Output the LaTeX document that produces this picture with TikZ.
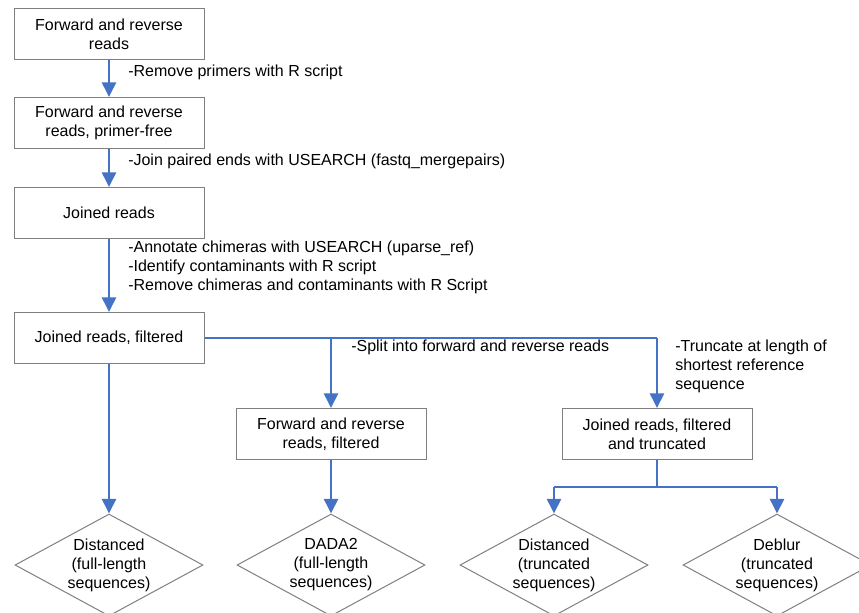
\documentclass[tikz,border=0pt]{standalone}
\usepackage{fontspec}
\setmainfont{Liberation Sans}
\usetikzlibrary{shapes.geometric, positioning, arrows.meta}
\definecolor{flowblue}{HTML}{4472C4}
\definecolor{boxgray}{HTML}{7F7F7F}

\begin{document}
\begin{tikzpicture}[
  x=0.75pt, y=-0.75pt,
  node distance=28pt and 0pt,
  every node/.style={font=\fontsize{12}{14.25}\selectfont, align=center},
  step_box/.style={rectangle, draw=boxgray, line width=0.75pt, minimum width=142.5pt, minimum height=38.25pt},
  decision/.style={diamond, draw=boxgray, line width=0.75pt, aspect=1.84, inner sep=0pt, minimum width=141pt, minimum height=76.5pt},
  note/.style={anchor=west, inner sep=0pt, align=left},
  arrow/.style={-{Triangle[width=10.5pt, length=11pt]}, line width=1.9pt, color=flowblue},
  branch/.style={line width=1pt, color=flowblue}
]
\clip (0,0) rectangle (859,612);

% Steps
\node[step_box] (raw) at (109,34) {Forward and reverse\\reads};
\node[step_box] (primerfree) [below=27.75pt of raw] {Forward and reverse\\reads, primer-free};
\node[step_box] (joined) [below=28.5pt of primerfree] {Joined reads};
\node[step_box] (filtered) [below=54.75pt of joined] {Joined reads, filtered};
\node[step_box] (fwdrev) at (331,434) {Forward and reverse\\reads, filtered};
\node[step_box] (truncated) at (657,434) {Joined reads, filtered\\and truncated};

% Methods
\node[decision] (dist_full) at (109,565) {Distanced\\(full-length\\sequences)};
\node[decision] (dada2) at (331,565) {DADA2\\(full-length\\sequences)};
\node[decision] (dist_trunc) at (554,565) {Distanced\\(truncated\\sequences)};
\node[decision] (deblur) at (777,565) {Deblur\\(truncated\\sequences)};

% Processing notes
\node[note] (n_primers) at (128,72) {-Remove primers with R script};
\node[note] (n_join) at (128,161) {-Join paired ends with USEARCH (fastq\_mergepairs)};
\node[note] (n_filter) at (128,267) {-Annotate chimeras with USEARCH (uparse\_ref)\\-Identify contaminants with R script\\-Remove chimeras and contaminants with R Script};
\node[note] (n_split) at (351,347) {-Split into forward and reverse reads};
\node[note] (n_trunc) at (675,366) {-Truncate at length of\\shortest reference\\sequence};

% Branch points
\coordinate (split1) at (filtered.east -| fwdrev.north);
\coordinate (split2) at (filtered.east -| truncated.north);
\coordinate (fork) at (657,487);
\coordinate (forkL) at (fork -| dist_trunc.north);
\coordinate (forkR) at (fork -| deblur.north);

% Connections
\draw[arrow] (raw) -- (primerfree);
\draw[arrow] (primerfree) -- (joined);
\draw[arrow] (joined) -- (filtered);
\draw[arrow] (filtered) -- (dist_full);
\draw[branch] (filtered.east) -- (split2);
\draw[arrow] (split1) -- (fwdrev);
\draw[arrow] (split2) -- (truncated);
\draw[arrow] (fwdrev) -- (dada2);
\draw[branch] (truncated) -- (fork);
\draw[branch] (forkL) -- (forkR);
\draw[arrow] (forkL) -- (dist_trunc);
\draw[arrow] (forkR) -- (deblur);

\end{tikzpicture}
\end{document}
